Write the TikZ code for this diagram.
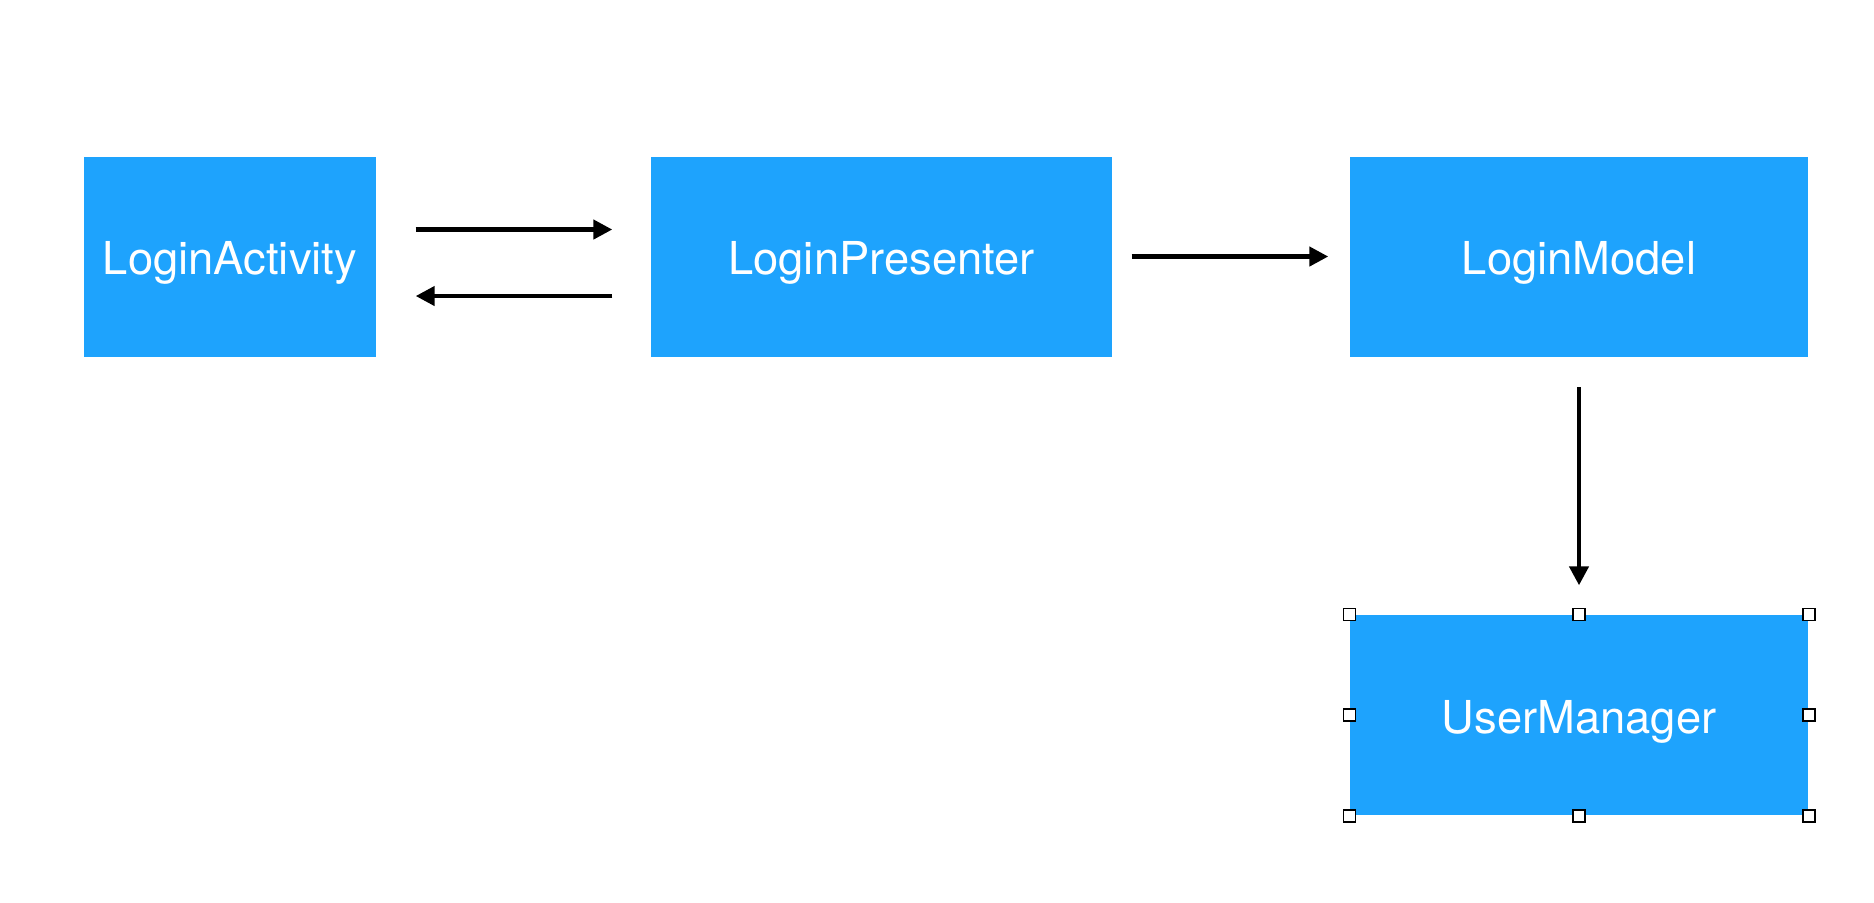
\documentclass[tikz,border=0pt]{standalone}
\usepackage{fontspec}
\setmainfont{TeX Gyre Heros}
\usetikzlibrary{arrows.meta,calc}

\definecolor{boxblue}{HTML}{1EA3FD}

\begin{document}
\begin{tikzpicture}[
      box/.style = {
        rectangle,
        fill=boxblue,
        text=white,
        minimum height=2cm,
        inner sep=0pt,
        text height=10.3pt,
        text depth=0pt,
        font=\fontsize{12.9}{15}\selectfont
      },
      link/.style = {
        -{Triangle[length=5.4pt,width=5.4pt]},
        line width=1.25pt
      },
      handle/.style = {
        rectangle,
        draw=black,
        fill=white,
        line width=0.45pt,
        minimum size=0.12cm,
        inner sep=0pt
      }
    ]
    \useasboundingbox (0,0) rectangle (18.74,-9.02);

    \node[box, minimum width=2.92cm] (activity) at (2.30,-2.565) {LoginActivity};
    \node[box, minimum width=4.61cm] (presenter) at (8.815,-2.565) {LoginPresenter};
    \node[box, minimum width=4.58cm] (model) at (15.79,-2.565) {LoginModel};
    \node[box, minimum width=4.58cm] (manager) at (15.79,-7.15) {UserManager};

    \draw[link, shorten <=0.39cm, shorten >=0.38cm]
      ($(activity.east)+(0,0.27)$) -- ($(presenter.west)+(0,0.27)$);
    \draw[link, shorten <=0.38cm, shorten >=0.39cm]
      ($(presenter.west)+(0,-0.395)$) -- ($(activity.east)+(0,-0.395)$);

    \draw[link, shorten <=0.19cm, shorten >=0.21cm] (presenter) -- (model);
    \draw[link, shorten <=0.30cm, shorten >=0.29cm] (model) -- (manager);

    \foreach \pos in {north west, north, north east, east, south east, south, south west, west} {
      \node[handle] (h-\pos) at (manager.\pos) {};
    }
\end{tikzpicture}
\end{document}
